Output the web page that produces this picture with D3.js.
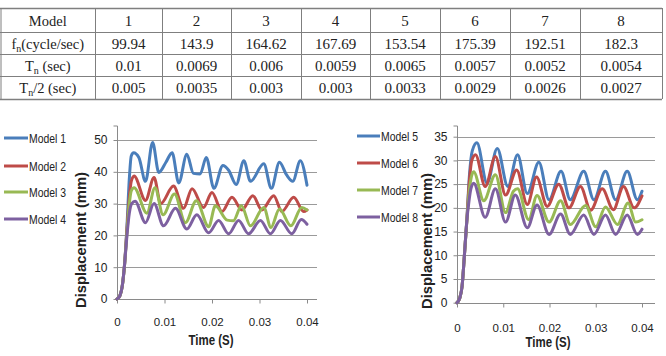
<!DOCTYPE html>
<html><head><meta charset="utf-8">
<script src="https://cdn.jsdelivr.net/npm/d3@7"></script>
<style>
body{margin:0;background:#fff;}
svg{display:block;}
</style></head>
<body>
<svg id="c" width="666" height="356"></svg>
<script>
// ---------- table data ----------
const tableModels = ["1","2","3","4","5","6","7","8"];
const fnValues = ["99.94","143.9","164.62","167.69","153.54","175.39","192.51","182.3"];
const tnValues = ["0.01","0.0069","0.006","0.0059","0.0065","0.0057","0.0052","0.0054"];
const tn2Values = ["0.005","0.0035","0.003","0.003","0.0033","0.0029","0.0026","0.0027"];

// ---------- chart data: [time (s), displacement (mm)] ----------
const model1 = [[0,0],[0.0006,1],[0.0011,4],[0.0016,11],[0.0021,23],[0.0026,38],[0.003,45],[0.0035,46],[0.0046,44.5],[0.006,37],[0.0075,49.2],[0.0088,39.8],[0.0103,43],[0.0116,46],[0.013,36.5],[0.0147,45.5],[0.0161,39.5],[0.0175,39.3],[0.0188,44.5],[0.0204,34.8],[0.0223,42],[0.0235,40.5],[0.0251,36],[0.0267,43.5],[0.0281,37],[0.0309,42.5],[0.0325,34.8],[0.0342,43],[0.0357,39],[0.037,37],[0.0386,43.5],[0.04,35.8]];
const model2 = [[0,0],[0.0006,1],[0.0011,4],[0.0016,11],[0.0021,22],[0.0026,32],[0.003,37],[0.0036,38.7],[0.006,31],[0.0078,38.2],[0.0092,30],[0.0119,35.5],[0.014,28.5],[0.0158,34.7],[0.0182,28.8],[0.02,33.5],[0.0221,27.5],[0.0242,32],[0.0263,28],[0.0286,32.5],[0.0305,28],[0.033,32.5],[0.0347,27.5],[0.0372,32],[0.0393,27.5],[0.04,28]];
const model3 = [[0,0],[0.0006,1],[0.0011,4],[0.0016,11],[0.0021,21],[0.0026,30],[0.003,34],[0.0036,35],[0.0063,27],[0.008,35],[0.0097,26.5],[0.0121,33],[0.0144,24],[0.0167,30.9],[0.0193,22.7],[0.0207,29.3],[0.0232,24.8],[0.0245,24.6],[0.0262,29.3],[0.0281,23],[0.0309,28.8],[0.0324,22.5],[0.0342,28.3],[0.0366,23],[0.0389,28.8],[0.04,28]];
const model4 = [[0,0],[0.0006,1],[0.0011,4],[0.0016,11],[0.0021,20],[0.0026,27],[0.0031,30],[0.0038,30.7],[0.006,24],[0.0078,30],[0.0098,23],[0.0123,28.5],[0.0147,22],[0.0168,26.5],[0.0193,20.8],[0.0214,24.7],[0.0235,20.5],[0.0256,24.7],[0.0277,20.5],[0.0302,24.7],[0.0323,20.5],[0.0344,24.7],[0.0368,20.5],[0.0388,25],[0.04,23.5]];

const model5 = [[0,0],[0.0006,1],[0.0011,3.5],[0.0016,10],[0.0021,17],[0.0027,27],[0.0033,32],[0.0043,33.7],[0.0065,25.2],[0.0087,32.5],[0.011,24.5],[0.0131,31.2],[0.0152,23],[0.0177,29.6],[0.0199,21.7],[0.0225,27.7],[0.0245,21.7],[0.0274,27.7],[0.0296,21.7],[0.0321,27.7],[0.0343,21.7],[0.0368,27.7],[0.039,21.7],[0.04,23.5]];
const model6 = [[0,0],[0.0006,1],[0.0011,3.5],[0.0016,10],[0.0021,17],[0.0027,26],[0.0032,30],[0.004,31.2],[0.0061,24.5],[0.0083,30.8],[0.0105,22.7],[0.0129,28],[0.0152,20.7],[0.0172,26.5],[0.0195,20.3],[0.022,25],[0.0242,20],[0.0267,24.5],[0.0289,19.5],[0.0314,24],[0.0338,19.6],[0.036,24.5],[0.0383,20],[0.04,22.5]];
const model7 = [[0,0],[0.0006,1],[0.0011,3.5],[0.0016,10],[0.0021,17],[0.0027,24],[0.0031,26.5],[0.0036,27.6],[0.0058,21.5],[0.0083,27],[0.0105,19],[0.0122,23.5],[0.0131,24],[0.0155,17.5],[0.0173,22.6],[0.0199,17],[0.0224,21.5],[0.0245,16.5],[0.0278,20.5],[0.03,16],[0.0321,20.2],[0.0347,16.5],[0.037,21],[0.0386,17],[0.04,17.5]];
const model8 = [[0,0],[0.0006,1],[0.0011,3.5],[0.0016,10],[0.0021,17],[0.0026,21.5],[0.003,24],[0.0036,25.2],[0.0061,18],[0.0083,24],[0.0105,17],[0.0126,22.7],[0.0152,15.8],[0.0173,20.6],[0.0199,14.4],[0.0224,18.7],[0.0245,14.4],[0.0274,18.5],[0.0296,14.4],[0.0321,18.5],[0.0343,14.4],[0.0368,18.5],[0.039,14.4],[0.04,15.5]];

const leftNames = ["Model 1","Model 2","Model 3","Model 4"];
const rightNames = ["Model 5","Model 6","Model 7","Model 8"];
const xTicks = [0,0.01,0.02,0.03,0.04];
const leftYTicks = [0,10,20,30,40,50];
const rightYTicks = [0,5,10,15,20,25,30,35];
const colors = ["#4a7ebb","#be4b48","#98b954","#7d60a0"];

const svg = d3.select("#c");

// ---------- table ----------
const rowsY = [8,32,54,76,99];
const colsX = [0.5,95,162,231,301,370,440,510,580,662];
const tableRows = [
  {label:"Model", vals:tableModels},
  {label:"fn", vals:fnValues},
  {label:"Tn", vals:tnValues},
  {label:"Tn2", vals:tn2Values}
];
const tg = svg.append("g");
rowsY.forEach((y,i)=>{
  tg.append("line").attr("x1",0).attr("x2",colsX[colsX.length-1]).attr("y1",y+0.5).attr("y2",y+0.5)
    .attr("stroke","#7f7f7f").attr("stroke-width",(i===0||i===rowsY.length-1)?1.6:1);
});
colsX.forEach(x=>{
  tg.append("line").attr("x1",x+0.5).attr("x2",x+0.5).attr("y1",rowsY[0]).attr("y2",rowsY[rowsY.length-1])
    .attr("stroke","#7f7f7f").attr("stroke-width",1);
});
const tf = "'Liberation Serif','DejaVu Serif',serif";
tableRows.forEach((r,ri)=>{
  const yc = (rowsY[ri]+rowsY[ri+1])/2 + 5.5;
  const lx = (colsX[0]+colsX[1])/2;
  const t = tg.append("text").attr("x",lx).attr("y",yc).attr("text-anchor","middle")
    .attr("font-family",tf).attr("font-size",14.5).attr("fill","#222");
  if(r.label==="Model"){ t.text("Model"); }
  else if(r.label==="fn"){ t.append("tspan").text("f"); t.append("tspan").attr("font-size",10).attr("dy",3).text("n"); t.append("tspan").attr("dy",-3).text("(cycle/sec)"); }
  else if(r.label==="Tn"){ t.append("tspan").text("T"); t.append("tspan").attr("font-size",10).attr("dy",3).text("n"); t.append("tspan").attr("dy",-3).text(" (sec)"); }
  else { t.append("tspan").text("T"); t.append("tspan").attr("font-size",10).attr("dy",3).text("n"); t.append("tspan").attr("dy",-3).text("/2 (sec)"); }
  r.vals.forEach((v,ci)=>{
    tg.append("text").attr("x",(colsX[ci+1]+colsX[ci+2])/2).attr("y",yc).attr("text-anchor","middle")
      .attr("font-family",tf).attr("font-size",15).attr("fill","#222").text(v);
  });
});

// ---------- charts ----------
const sf = "'Liberation Sans','DejaVu Sans',sans-serif";
function chart(cfg){
  const g = svg.append("g");
  const x = d3.scaleLinear().domain([0,0.04]).range(cfg.xr);
  const y = d3.scaleLinear().domain([0,cfg.ymax]).range(cfg.yr);
  // gridlines
  g.selectAll(".grid").data(cfg.yTicks.slice(1)).join("line")
    .attr("x1",cfg.xr[0]).attr("x2",cfg.gridEnd)
    .attr("y1",d=>Math.round(y(d))+0.5).attr("y2",d=>Math.round(y(d))+0.5)
    .attr("stroke","#9a9a9a").attr("stroke-width",1);
  // y axis
  const ya = g.append("g").attr("transform",`translate(${cfg.xr[0]+0.5},0)`)
    .call(d3.axisLeft(y).tickValues(cfg.yTicks).tickSize(4).tickPadding(6).tickFormat(d3.format("d")));
  ya.select(".domain").attr("d",`M-4,${cfg.topY}H0V${cfg.yr[0]+1}`).attr("stroke","#8a8a8a");
  ya.selectAll(".tick line").attr("stroke","#8a8a8a");
  ya.selectAll(".tick text").attr("font-family",sf).attr("font-size",12).attr("fill","#222");
  // x axis
  const xa = g.append("g").attr("transform",`translate(0,${Math.round(cfg.yr[0])+0.5})`)
    .call(d3.axisBottom(x).tickValues(xTicks).tickSize(4).tickPadding(cfg.xPad).tickFormat(d=>d===0?"0":d3.format(".2f")(d)));
  xa.select(".domain").attr("d",`M${cfg.xr[0]},0H${cfg.gridEnd}`).attr("stroke","#8a8a8a");
  xa.selectAll(".tick line").attr("stroke","#8a8a8a");
  xa.selectAll(".tick text").attr("font-family",sf).attr("font-size",11.5).attr("fill","#222");
  // lines
  const line = d3.line().x(d=>x(d[0])).y(d=>y(d[1])).curve(d3.curveMonotoneX);
  cfg.series.forEach((s,i)=>{
    g.append("path").attr("d",line(s)).attr("fill","none").attr("stroke",colors[i])
      .attr("stroke-width",3).attr("stroke-linejoin","round").attr("stroke-linecap","round");
  });
  // titles
  g.append("text").attr("x",cfg.xTitle[0]).attr("y",cfg.xTitle[1]).attr("text-anchor","middle")
    .attr("font-family",sf).attr("font-weight","bold").attr("font-size",15).attr("fill","#222")
    .attr("textLength",45).attr("lengthAdjust","spacingAndGlyphs").text("Time (S)");
  g.append("text").attr("transform",`translate(${cfg.yTitle[0]},${cfg.yTitle[1]}) rotate(-90)`).attr("text-anchor","middle")
    .attr("font-family",sf).attr("font-weight","bold").attr("font-size",14.5).attr("fill","#222")
    .attr("textLength",136).attr("lengthAdjust","spacingAndGlyphs").text("Displacement (mm)");
  // legend
  cfg.names.forEach((n,i)=>{
    const ly = cfg.legY[i];
    g.append("line").attr("x1",cfg.legX[0]).attr("x2",cfg.legX[1]).attr("y1",ly).attr("y2",ly)
      .attr("stroke",colors[i]).attr("stroke-width",3);
    g.append("text").attr("x",cfg.legX[1]+1).attr("y",ly+5).attr("font-family",sf).attr("font-size",13.5)
      .attr("textLength",37).attr("lengthAdjust","spacingAndGlyphs")
      .attr("fill","#222").text(n);
  });
}

chart({xr:[117,307], yr:[299,140], ymax:50, yTicks:leftYTicks, gridEnd:317, topY:126, xPad:14,
  series:[model1,model2,model3,model4], names:leftNames,
  xTitle:[211,345], yTitle:[86,240], legX:[4,28], legY:[138,166,192,219]});
chart({xr:[457,642], yr:[302.7,136.7], ymax:35, yTicks:rightYTicks, gridEnd:655, topY:126, xPad:16,
  series:[model5,model6,model7,model8], names:rightNames,
  xTitle:[548,347], yTitle:[432,241], legX:[357,380], legY:[136,163,190,217]});
</script>
</body></html>
